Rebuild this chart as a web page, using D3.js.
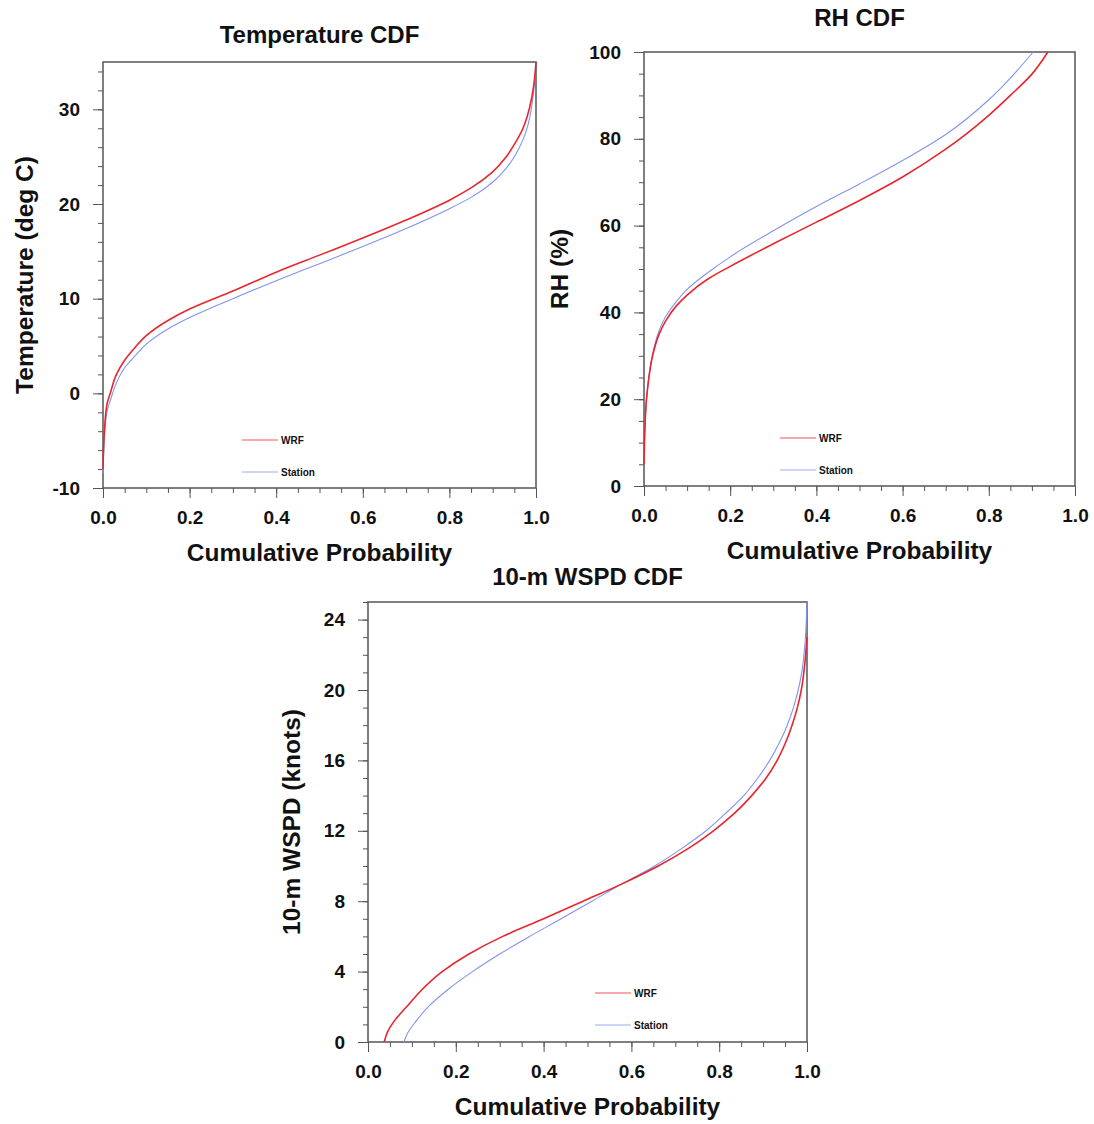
<!DOCTYPE html>
<html>
<head>
<meta charset="utf-8">
<script src="https://cdn.jsdelivr.net/npm/d3@7"></script>
<style>
  body { margin: 0; background: #fff; }
  svg text { font-family: "Liberation Sans", Arial, Helvetica, sans-serif; font-weight: bold; fill: #111; }
</style>
</head>
<body>
<svg id="canvas"></svg>
<script>
// Temperature CDF (cumulative probability -> deg C)
const tempWrfProb = [0, 0.002, 0.005, 0.01, 0.018, 0.03, 0.05, 0.075, 0.1, 0.15, 0.2, 0.3, 0.4, 0.5, 0.6, 0.7, 0.8, 0.85, 0.9, 0.93, 0.95, 0.97, 0.98, 0.99, 0.995, 1.0];
const tempWrf = [-8, -5, -2.8, -1, 0.2, 1.9, 3.5, 4.9, 6.1, 7.7, 8.9, 10.8, 12.8, 14.6, 16.4, 18.3, 20.4, 21.7, 23.4, 24.9, 26.3, 28.0, 29.3, 31.2, 32.6, 35];
const tempStnProb = [0, 0.002, 0.005, 0.01, 0.018, 0.03, 0.05, 0.075, 0.1, 0.15, 0.2, 0.3, 0.4, 0.5, 0.6, 0.7, 0.8, 0.85, 0.9, 0.93, 0.95, 0.97, 0.98, 0.99, 0.995, 1.0];
const tempStn = [-8.5, -5.8, -3.6, -1.8, -0.6, 1.0, 2.7, 4.0, 5.2, 6.8, 8.0, 10.0, 11.9, 13.7, 15.5, 17.4, 19.5, 20.7, 22.3, 23.7, 25.0, 26.8, 28.1, 30.3, 32.0, 35];

// RH CDF (%)
const rhWrfProb = [0, 0.002, 0.005, 0.01, 0.02, 0.035, 0.05, 0.075, 0.1, 0.15, 0.2, 0.3, 0.4, 0.5, 0.6, 0.7, 0.8, 0.85, 0.9, 0.937];
const rhWrf = [5, 13, 19, 24, 30, 35, 38, 41.5, 44, 47.8, 50.6, 55.8, 60.8, 65.8, 71.2, 77.6, 85.4, 90.0, 94.9, 100];
const rhStnProb = [0, 0.002, 0.005, 0.01, 0.02, 0.035, 0.05, 0.075, 0.1, 0.15, 0.2, 0.3, 0.4, 0.5, 0.6, 0.7, 0.8, 0.85, 0.903];
const rhStn = [5, 13, 19, 24, 30.5, 35.8, 39, 42.5, 45.3, 49.3, 52.8, 58.8, 64.4, 69.6, 75, 81, 89, 94, 100];

// 10-m wind speed CDF (knots)
const wsWrfProb = [0.037, 0.045, 0.06, 0.088, 0.12, 0.169, 0.23, 0.307, 0.4, 0.49, 0.58, 0.661, 0.73, 0.787, 0.835, 0.874, 0.907, 0.932, 0.951, 0.966, 0.978, 0.987, 0.995, 1.0];
const wsWrf = [0, 0.6, 1.2, 2, 2.9, 4, 5, 6, 7, 8, 9, 10, 11, 12, 13, 14, 15, 16, 17, 18, 19, 20, 21.5, 23];
const wsStnProb = [0.082, 0.09, 0.11, 0.137, 0.183, 0.238, 0.3, 0.368, 0.44, 0.51, 0.58, 0.653, 0.715, 0.77, 0.815, 0.856, 0.888, 0.915, 0.937, 0.955, 0.969, 0.98, 0.988, 0.995, 1.0];
const wsStn = [0, 0.5, 1.2, 2, 3, 4, 5, 6, 7, 8, 9, 10, 11, 12, 13, 14, 15, 16, 17, 18, 19, 20, 21, 22.5, 25];

const probTicks = [0, 0.2, 0.4, 0.6, 0.8, 1.0];
const seriesNames = ["WRF", "Station"];

const width = 1094, height = 1124;
const svg = d3.select("#canvas").attr("width", width).attr("height", height);

const wrfColor = "#e8262e", stnColor = "#8094ee", frameColor = "#555";

function zip(p, v) { return p.map((d, i) => ({ p: d, v: v[i] })); }

function drawPanel(cfg) {
  const x = d3.scaleLinear().domain([0, 1]).range([cfg.left, cfg.right]);
  const y = d3.scaleLinear().domain(cfg.yDomain).range([cfg.bottom, cfg.top]);
  const g = svg.append("g");

  // minor ticks
  g.append("g").attr("transform", `translate(0,${cfg.bottom})`)
    .call(d3.axisBottom(x).tickValues(d3.range(0, 1.0001, 0.05)).tickSize(5).tickFormat(""))
    .call(a => a.select(".domain").remove());
  g.append("g").attr("transform", `translate(${cfg.left},0)`)
    .call(d3.axisLeft(y).tickValues(d3.range(cfg.yDomain[0], cfg.yDomain[1] + 0.001, cfg.yMinor)).tickSize(5).tickFormat(""))
    .call(a => a.select(".domain").remove());

  // major ticks + labels (plain hyphen for negatives, like the original)
  g.append("g").attr("transform", `translate(0,${cfg.bottom})`)
    .call(d3.axisBottom(x).tickValues(probTicks).tickSize(10).tickPadding(13).tickFormat(d3.format(".1f")))
    .call(a => a.select(".domain").remove())
    .selectAll("text").style("font-size", "19px").attr("fill", "#111");
  g.append("g").attr("transform", `translate(${cfg.left},0)`)
    .call(d3.axisLeft(y).tickValues(cfg.yTicks).tickSize(10).tickPadding(13).tickFormat(d => d < 0 ? "-" + Math.abs(d) : String(d)))
    .call(a => a.select(".domain").remove())
    .selectAll("text").style("font-size", "19px").attr("fill", "#111");

  g.selectAll(".tick line").attr("stroke", frameColor).attr("stroke-width", 1);

  // frame
  g.append("rect")
    .attr("x", cfg.left).attr("y", cfg.top)
    .attr("width", cfg.right - cfg.left).attr("height", cfg.bottom - cfg.top)
    .attr("fill", "none").attr("stroke", frameColor).attr("stroke-width", 1.5);

  const line = d3.line().x(d => x(d.p)).y(d => y(d.v)).curve(d3.curveMonotoneY);

  g.append("path").datum(zip(cfg.stnProb, cfg.stn))
    .attr("d", line).attr("fill", "none").attr("stroke", stnColor).attr("stroke-width", 1.1);
  g.append("path").datum(zip(cfg.wrfProb, cfg.wrf))
    .attr("d", line).attr("fill", "none").attr("stroke", wrfColor).attr("stroke-width", 1.6);

  // legend
  const lg = g.append("g").attr("transform", `translate(${cfg.legend[0]},${cfg.legend[1]})`);
  seriesNames.forEach((name, i) => {
    lg.append("line").attr("x1", 0).attr("x2", 36).attr("y1", i * 32).attr("y2", i * 32)
      .attr("stroke", i === 0 ? wrfColor : stnColor).attr("stroke-width", 0.8);
    lg.append("text").attr("x", 39).attr("y", i * 32 + 3.5).style("font-size", "10px").attr("fill", "#333").text(name);
  });

  const cx = (cfg.left + cfg.right) / 2;
  g.append("text").attr("x", cx).attr("y", cfg.titleY).attr("text-anchor", "middle")
    .style("font-size", "24px").text(cfg.title);
  g.append("text").attr("x", cx).attr("y", cfg.bottom + 73).attr("text-anchor", "middle")
    .style("font-size", "24.5px").text("Cumulative Probability");
  g.append("text")
    .attr("transform", `translate(${cfg.yTitleX},${(cfg.top + cfg.bottom) / 2}) rotate(-90)`)
    .attr("text-anchor", "middle").style("font-size", "24.5px").text(cfg.yTitle);
}

drawPanel({
  title: "Temperature CDF", titleY: 43, yTitle: "Temperature (deg C)", yTitleX: 33,
  left: 103, right: 536, top: 62, bottom: 488,
  yDomain: [-10, 35], yTicks: [-10, 0, 10, 20, 30], yMinor: 2,
  wrfProb: tempWrfProb, wrf: tempWrf, stnProb: tempStnProb, stn: tempStn,
  legend: [242, 440]
});

drawPanel({
  title: "RH CDF", titleY: 26, yTitle: "RH (%)", yTitleX: 568,
  left: 644, right: 1075, top: 52, bottom: 486,
  yDomain: [0, 100], yTicks: [0, 20, 40, 60, 80, 100], yMinor: 5,
  wrfProb: rhWrfProb, wrf: rhWrf, stnProb: rhStnProb, stn: rhStn,
  legend: [780, 438]
});

drawPanel({
  title: "10-m WSPD CDF", titleY: 585, yTitle: "10-m WSPD (knots)", yTitleX: 300,
  left: 368, right: 807, top: 602, bottom: 1042,
  yDomain: [0, 25], yTicks: [0, 4, 8, 12, 16, 20, 24], yMinor: 1,
  wrfProb: wsWrfProb, wrf: wsWrf, stnProb: wsStnProb, stn: wsStn,
  legend: [595, 993]
});
</script>
</body>
</html>
